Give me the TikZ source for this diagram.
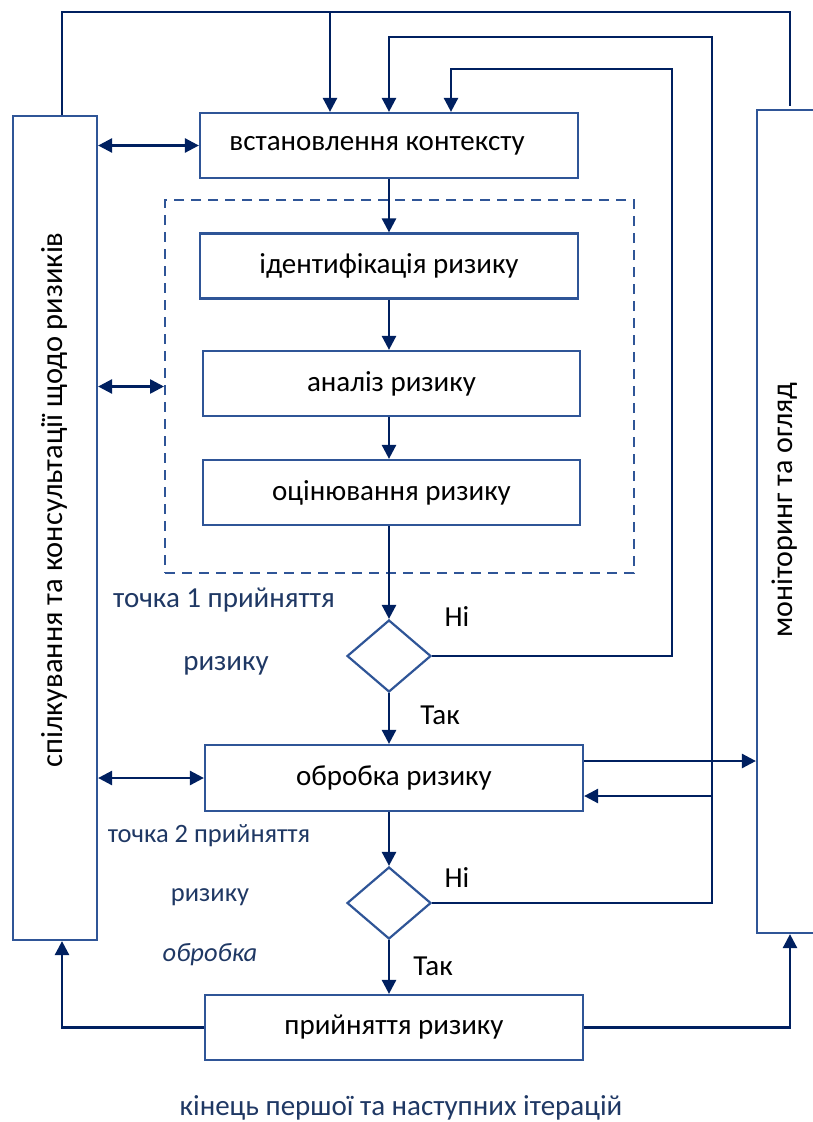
\documentclass[tikz,border=0pt]{standalone}
\usepackage{fontspec}
\setmainfont{Carlito}
\usetikzlibrary{shapes.geometric,arrows.meta}
\definecolor{boxblue}{HTML}{2F5597}
\definecolor{navy}{HTML}{002060}
\definecolor{lblue}{HTML}{1F3864}

\begin{document}
\begin{tikzpicture}[x=1pt,y=-1pt,
  blk/.style={draw=boxblue,line width=2.2pt,minimum width=378pt,minimum height=65pt,inner sep=0pt,font=\fontsize{29}{34}\selectfont},
  dec/.style={diamond,draw=boxblue,line width=2.2pt,minimum width=84pt,minimum height=72pt,inner sep=0pt},
  ln/.style={draw=navy,line width=2.6pt},
  arr/.style={ln,-{Triangle[length=14pt,width=14pt]}},
  dbl/.style={ln,{Triangle[length=14pt,width=14pt]}-{Triangle[length=14pt,width=14pt]}},
  lbl/.style={text=lblue,font=\fontsize{29}{34}\selectfont},
  smlbl/.style={text=lblue,font=\fontsize{26.5}{31}\selectfont},
  yn/.style={font=\fontsize{29}{34}\selectfont}]
\useasboundingbox (0,0) rectangle (813,1122);

\node[draw=boxblue,dash pattern=on 10pt off 7pt,line width=2pt,minimum width=469pt,minimum height=373pt] (dash) at (399.5,386.5) {};
\node[draw=boxblue,line width=2.2pt,minimum width=84pt,minimum height=824pt] (comm) at (55,528) {};
\node[draw=boxblue,line width=2.2pt,minimum width=100pt,minimum height=823pt] (mon) at (807,521.5) {};
\node[rotate=90,font=\fontsize{30.5}{36}\selectfont] (commtxt) at (55,500) {спілкування та консультації щодо ризиків};
\node[rotate=90,font=\fontsize{30}{36}\selectfont] (montxt) at (785,510) {моніторинг та огляд};

\node[blk] (ctx) at (389,145.5) {\hspace*{-24pt}встановлення контексту};
\node[blk] (ident) at (389,266) {ідентифікація ризику};
\node[blk,minimum width=377pt] (anal) at (391.5,383.5) {аналіз ризику};
\node[blk,minimum width=377pt] (eval) at (391.5,492.5) {оцінювання ризику};
\node[dec] (d1) at (389,656) {};
\node[blk,minimum height=66pt] (treat) at (394,778) {обробка ризику};
\node[dec] (d2) at (389,903) {};
\node[blk] (acc) at (394,1027.5) {прийняття ризику};

\node[yn] (no1) at (457,617) {Ні};
\node[yn] (yes1) at (440,715) {Так};
\node[yn] (no2) at (457,878) {Ні};
\node[yn] (yes2) at (433,966) {Так};
\node[lbl] (p1a) at (224,600) {точка 1 прийняття};
\node[lbl] (p1b) at (226,666) {ризику};
\node[smlbl] (p2a) at (209,836) {точка 2 прийняття};
\node[smlbl] (p2b) at (210,897) {ризику};
\node[smlbl,font=\fontsize{26.5}{31}\selectfont\itshape] (p2c) at (210,955) {обробка};
\node[lbl] (fin) at (401,1108) {кінець першої та наступних ітерацій};

\draw[arr] (ident |- ctx.south) -- (ident.north);
\draw[arr] (ident.south) -- (ident.south |- anal.north);
\draw[arr] (ident.south |- anal.south) -- (ident.south |- eval.north);
\draw[arr] (d1 |- eval.south) -- (d1.north);
\draw[arr] (d1.south) -- (d1 |- treat.north);
\draw[arr] (d2 |- treat.south) -- (d2.north);
\draw[arr] (d2.south) -- (d2 |- acc.north);

\coordinate (tl) at (62,12);
\coordinate (tr) at (790,12);
\coordinate (a1) at (330,12);
\draw[ln] (tl |- comm.north) -- (tl) -- (tr) -- ([yshift=3pt]tr |- mon.north);
\draw[arr] (a1) -- (a1 |- ctx.north);

\coordinate (b1) at (389,37);
\coordinate (b2) at (712,37);
\coordinate (b3) at (712,796);
\draw[arr] (d2.east) -- (d2.east -| b2) -- (b2) -- (b1) -- (b1 |- ctx.north);
\draw[arr] (b3) -- (b3 -| treat.east);

\coordinate (c1) at (451,69);
\coordinate (c2) at (672,69);
\draw[arr] (d1.east) -- (d1.east -| c2) -- (c2) -- (c1) -- (c1 |- ctx.north);

\draw[dbl] (comm.east |- ctx.west) -- (ctx.west);
\draw[dbl] (comm.east |- dash.west) -- (dash.west);
\draw[dbl] (comm.east |- treat.west) -- (treat.west);

\coordinate (m1) at ([yshift=17pt]treat.east);
\draw[arr] (m1) -- (m1 -| mon.west);
\draw[arr] (acc.west) -| (tl |- comm.south);
\draw[arr] (acc.east) -| (tr |- mon.south);
\end{tikzpicture}
\end{document}
